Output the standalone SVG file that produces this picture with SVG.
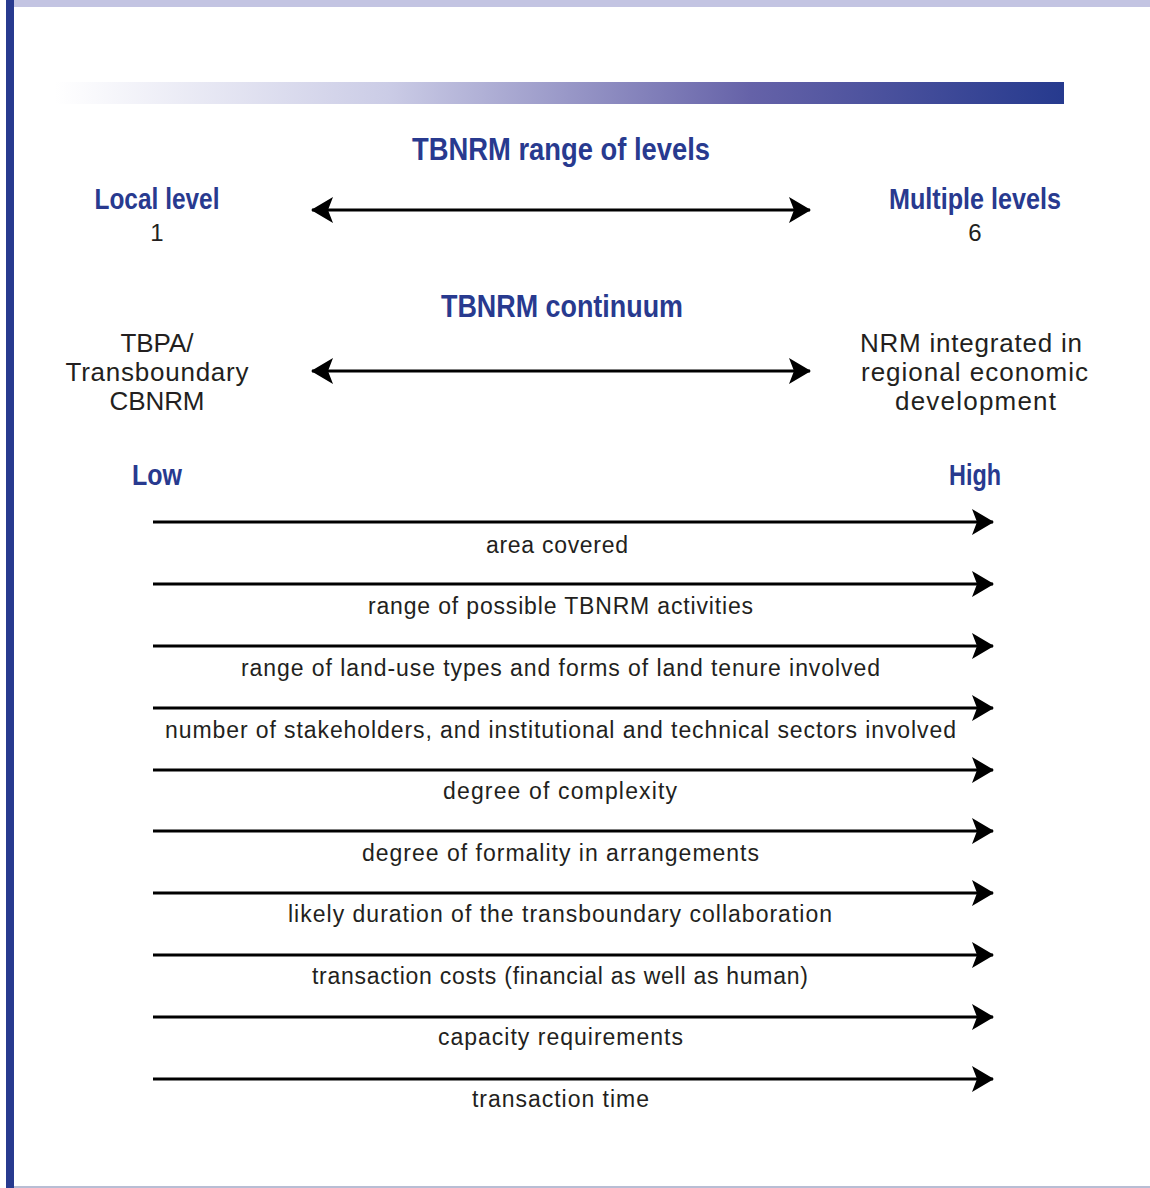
<svg xmlns="http://www.w3.org/2000/svg" width="1150" height="1188" viewBox="0 0 1150 1188">
<defs>
<linearGradient id="band" x1="0" y1="0" x2="1" y2="0">
<stop offset="0" stop-color="#ffffff"/>
<stop offset="0.33" stop-color="#cbcce6"/>
<stop offset="0.69" stop-color="#6562a8"/>
<stop offset="1" stop-color="#263a8e"/>
</linearGradient>
<marker id="ah" viewBox="0 0 22 26" refX="21" refY="13" markerWidth="22" markerHeight="26" markerUnits="userSpaceOnUse" orient="auto-start-reverse">
<path d="M0,0 L22,13 L0,26 L5,13 Z" fill="#000"/>
</marker>
</defs>
<style>
.hd{font-family:"Liberation Sans Narrow","Liberation Sans",Arial,sans-serif;font-weight:bold;fill:#283a8f;text-anchor:middle}
.tx{font-family:"Liberation Sans",Arial,sans-serif;fill:#231f20;text-anchor:middle}
.body{font-size:26px}
.row{font-size:23px}
.ln{stroke:#000;stroke-width:3;fill:none}
</style>
<rect x="0" y="0" width="1150" height="1188" fill="#fff"/>
<rect x="14" y="0" width="1136" height="7" fill="#c3c4e2"/>
<rect x="6" y="0" width="8" height="1188" fill="#283a8f"/>
<rect x="14" y="1186" width="1136" height="2" fill="#b8bdd4"/>
<rect x="55" y="82" width="1009" height="22" fill="url(#band)"/>

<g id="title-levels"><text class="hd" x="561" y="160" font-size="31" textLength="298" lengthAdjust="spacingAndGlyphs">TBNRM range of levels</text></g>
<g id="local-level">
<text class="hd" x="157" y="209" font-size="30" textLength="125" lengthAdjust="spacingAndGlyphs">Local level</text>
<text class="tx" x="157" y="241" font-size="24">1</text>
</g>
<g id="multiple-levels">
<text class="hd" x="975" y="209" font-size="30" textLength="172" lengthAdjust="spacingAndGlyphs">Multiple levels</text>
<text class="tx" x="975" y="241" font-size="24">6</text>
</g>
<g id="title-continuum"><text class="hd" x="562" y="317" font-size="31" textLength="242" lengthAdjust="spacingAndGlyphs">TBNRM continuum</text></g>
<g id="tbpa">
<text class="tx body" x="157" y="352">TBPA/</text>
<text class="tx body" x="157" y="381" textLength="183" lengthAdjust="spacing">Transboundary</text>
<text class="tx body" x="157" y="410" textLength="95" lengthAdjust="spacing">CBNRM</text>
</g>
<g id="nrm">
<text class="tx body" x="971" y="352" textLength="222" lengthAdjust="spacing">NRM integrated in</text>
<text class="tx body" x="974.5" y="381" textLength="227" lengthAdjust="spacing">regional economic</text>
<text class="tx body" x="975.5" y="410" textLength="161" lengthAdjust="spacing">development</text>
</g>
<g id="low"><text class="hd" x="157" y="485" font-size="30" textLength="50" lengthAdjust="spacingAndGlyphs">Low</text></g>
<g id="high"><text class="hd" x="975" y="485" font-size="30" textLength="52" lengthAdjust="spacingAndGlyphs">High</text></g>

<g id="connectors">
<line class="ln" x1="312" y1="210" x2="810" y2="210" marker-start="url(#ah)" marker-end="url(#ah)"/>
<line class="ln" x1="312" y1="371" x2="810" y2="371" marker-start="url(#ah)" marker-end="url(#ah)"/>
<line class="ln" x1="153" y1="522" x2="993" y2="522" marker-end="url(#ah)"/>
<line class="ln" x1="153" y1="584" x2="993" y2="584" marker-end="url(#ah)"/>
<line class="ln" x1="153" y1="646" x2="993" y2="646" marker-end="url(#ah)"/>
<line class="ln" x1="153" y1="708" x2="993" y2="708" marker-end="url(#ah)"/>
<line class="ln" x1="153" y1="770" x2="993" y2="770" marker-end="url(#ah)"/>
<line class="ln" x1="153" y1="831" x2="993" y2="831" marker-end="url(#ah)"/>
<line class="ln" x1="153" y1="893" x2="993" y2="893" marker-end="url(#ah)"/>
<line class="ln" x1="153" y1="955" x2="993" y2="955" marker-end="url(#ah)"/>
<line class="ln" x1="153" y1="1017" x2="993" y2="1017" marker-end="url(#ah)"/>
<line class="ln" x1="153" y1="1079" x2="993" y2="1079" marker-end="url(#ah)"/>
</g>

<g id="row-labels">
<text class="tx row" x="557" y="553" textLength="142" lengthAdjust="spacing">area covered</text>
<text class="tx row" x="560.5" y="614" textLength="385" lengthAdjust="spacing">range of possible TBNRM activities</text>
<text class="tx row" x="560.5" y="676" textLength="639" lengthAdjust="spacing">range of land-use types and forms of land tenure involved</text>
<text class="tx row" x="560.5" y="738" textLength="791" lengthAdjust="spacing">number of stakeholders, and institutional and technical sectors involved</text>
<text class="tx row" x="560" y="799" textLength="234" lengthAdjust="spacing">degree of complexity</text>
<text class="tx row" x="560.5" y="861" textLength="397" lengthAdjust="spacing">degree of formality in arrangements</text>
<text class="tx row" x="560" y="922" textLength="544" lengthAdjust="spacing">likely duration of the transboundary collaboration</text>
<text class="tx row" x="560" y="984" textLength="496" lengthAdjust="spacing">transaction costs (financial as well as human)</text>
<text class="tx row" x="560.5" y="1045" textLength="245" lengthAdjust="spacing">capacity requirements</text>
<text class="tx row" x="560.5" y="1107" textLength="177" lengthAdjust="spacing">transaction time</text>
</g>
</svg>
